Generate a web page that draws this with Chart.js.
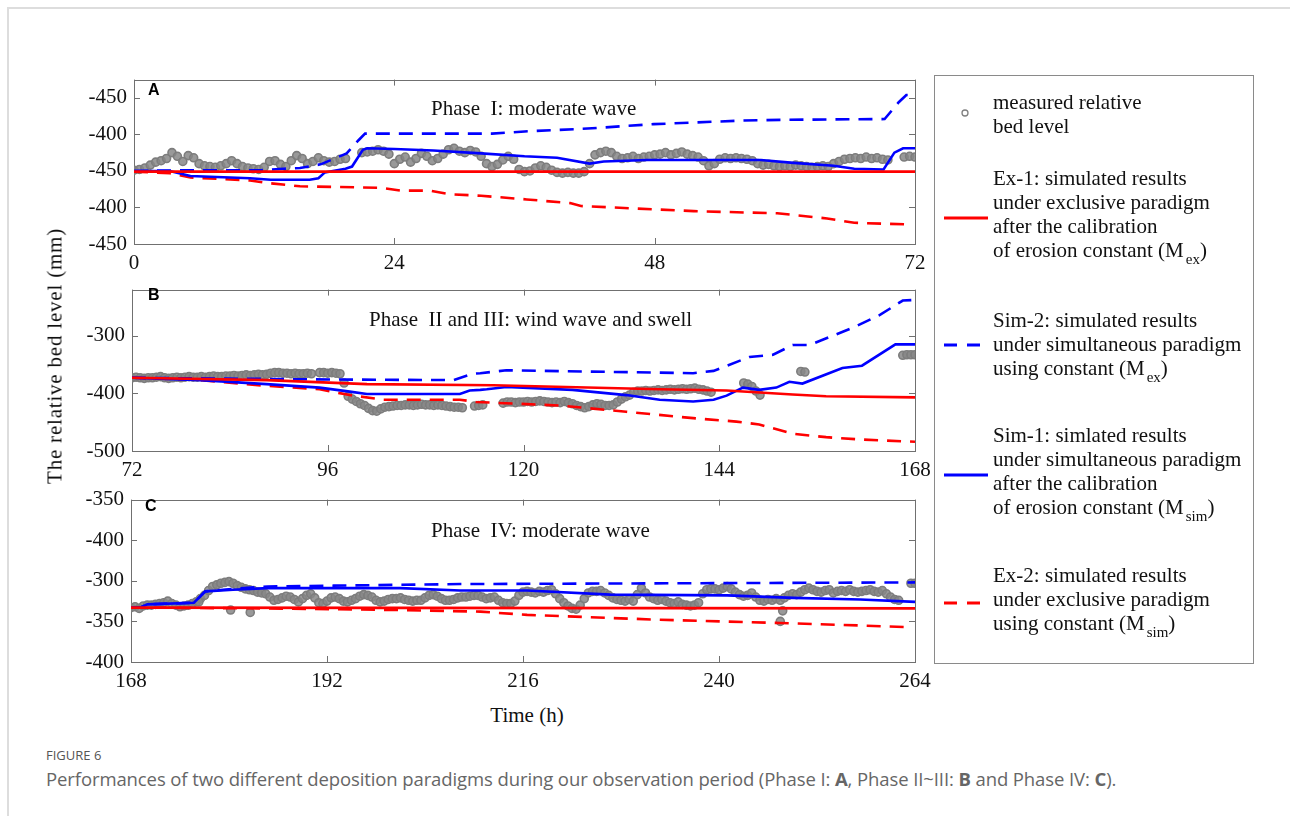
<!DOCTYPE html>
<html>
<head>
<meta charset="utf-8">
<script src="https://cdn.jsdelivr.net/npm/chart.js@4.4.0/dist/chart.umd.min.js"></script>
<style>
  body { margin: 0; background: #fff; width: 1290px; height: 816px; overflow: hidden; position: relative; }
  .abs { position: absolute; }
  canvas { position: absolute; left: 0; }
  .serif { font-family: "Liberation Serif", "Times New Roman", serif; color: #111; white-space: pre; }
  .letter { font-family: "Liberation Sans", Arial, sans-serif; font-weight: bold; font-size: 16px; color: #000; }
  .leg { font-size: 21px; line-height: 24px; left: 993px; }
  .leg sub { font-size: 15px; line-height: 0; vertical-align: -7px; margin-left: 2px; }
  .cap { font-family: "Open Sans", "Noto Sans", sans-serif; color: #666; white-space: nowrap; }
</style>
</head>
<body>
<div class="abs" style="left:7px;top:7px;width:1300px;height:820px;border-top:2px solid #ddd;border-left:2px solid #ddd;"></div>

<canvas id="panelA" width="940" height="220" style="top:60px"></canvas>
<canvas id="panelB" width="940" height="220" style="top:270px"></canvas>
<canvas id="panelC" width="940" height="220" style="top:480px"></canvas>

<div class="abs letter" style="left:148px;top:81px;">A</div>
<div class="abs letter" style="left:148px;top:286px;">B</div>
<div class="abs letter" style="left:145px;top:497px;">C</div>

<div class="abs serif" style="left:431px;top:96px;font-size:21px;">Phase  I: moderate wave</div>
<div class="abs serif" style="left:369px;top:307px;font-size:21px;">Phase  II and III: wind wave and swell</div>
<div class="abs serif" style="left:431px;top:518px;font-size:21px;">Phase  IV: moderate wave</div>

<div class="abs serif" style="left:55px;top:356px;font-size:21px;letter-spacing:0.8px;transform:translate(-50%,-50%) rotate(-90deg);">The relative bed level (mm)</div>
<div class="abs serif" style="left:527px;top:715px;font-size:21px;transform:translate(-50%,-50%);">Time (h)</div>

<!-- legend -->
<div class="abs" style="left:934px;top:75px;width:318px;height:587px;border:1px solid #8a8a8a;"></div>
<svg class="abs" style="left:934px;top:75px;" width="320" height="590">
  <circle cx="31" cy="38" r="3" fill="none" stroke="#808080" stroke-width="1.3"/>
  <line x1="10" y1="143" x2="54" y2="143" stroke="#ff0000" stroke-width="3"/>
  <line x1="10" y1="270" x2="54" y2="270" stroke="#0000ff" stroke-width="3" stroke-dasharray="13 10"/>
  <line x1="10" y1="400" x2="54" y2="400" stroke="#0000ff" stroke-width="3"/>
  <line x1="10" y1="528" x2="54" y2="528" stroke="#ff0000" stroke-width="3" stroke-dasharray="13 10"/>
</svg>
<div class="abs serif leg" style="top:90px;">measured relative
bed level</div>
<div class="abs serif leg" style="top:166px;">Ex-1: simulated results
under exclusive paradigm
after the calibration
of erosion constant (M<sub>ex</sub>)</div>
<div class="abs serif leg" style="top:308px;">Sim-2: simulated results
under simultaneous paradigm
using constant (M<sub>ex</sub>)</div>
<div class="abs serif leg" style="top:423px;">Sim-1: simlated results
under simultaneous paradigm
after the calibration
of erosion constant (M<sub>sim</sub>)</div>
<div class="abs serif leg" style="top:563px;">Ex-2: simulated results
under exclusive paradigm
using constant (M<sub>sim</sub>)</div>

<div class="abs cap" style="left:46px;top:746px;font-size:13px;color:#555;">FIGURE 6</div>
<div class="abs cap" style="left:46px;top:766px;font-size:18.5px;letter-spacing:-0.1px;">Performances of two different deposition paradigms during our observation period (Phase I: <b>A</b>, Phase II~III: <b>B</b> and Phase IV: <b>C</b>).</div>

<script>
// ---- panel A (0-72 h) ----
const xTicksA = [0, 24, 48, 72];
const yTicksA = [-550, -500, -450, -400, -350];
const yLabelsA = ['-450', '-400', '-450', '-400', '-450'];
// measured bed level, every 0.5 h from t = 0
const measA = [
  -449, -448, -446, -442, -438, -436, -433, -425, -430, -437, -429, -432,
  -440, -443, -444, -445, -443, -440, -436, -440, -444, -446, -447, -448,
  -445, -437, -436, -441, -444, -436, -429, -433, -440, -437, -432, -436,
  -438, -437, -434, -433, null, null, -425, -424, -423, -421, -423, -427,
  -440, -434, -431, -438, -433, -426, -430, -436, -433, -427, -421, -419,
  -423, -425, -422, -424, -430, -440, -444, -441, -435, -430, -434, -448,
  -451, -450, -446, -443, -445, -449, -452, -453, -452, -453, -453, -451,
  -440, -428, -425, -423, -425, -430, -433, -432, -430, -433, -431, -430,
  -428, -427, -425, -428, -426, -424, -427, -429, -431, -436, -443, -440,
  -434, -432, -433, -432, -433, -434, -436, -440, -442, -441, -443, -444,
  -443, -444, -442, -443, -444, -445, -444, -443, -444, -440, -437, -434,
  -433, -432, -433, -431, -433, -432, -434, -435, null, null, -431, -430, -431
];
const ex1A = [[0, -451], [72, -451]];
const ex2A = [[0, -451], [3.3, -453], [5.2, -459], [10.7, -463], [12.6, -467], [15.3, -471],
  [22.7, -473], [24.6, -477], [27.3, -477], [29.2, -482], [32, -484], [36.2, -489], [40.2, -494],
  [41.2, -498], [51.6, -505], [59.3, -508], [63.9, -515], [66.4, -521], [71, -523]];
const sim1A = [[0, -450], [3.3, -450], [5.2, -457], [10.7, -460], [12.6, -462], [16.2, -462],
  [17, -460], [17.6, -452], [19.5, -447], [20.1, -444], [21.1, -421], [21.5, -419], [24, -420],
  [27.6, -422], [32, -426], [36, -430], [39, -432], [42, -440], [43.3, -437], [47.3, -435],
  [57.8, -435], [60.8, -439], [64.5, -443], [66.4, -447], [69.1, -448], [70.1, -425], [70.9, -419], [72, -419]];
const sim2A = [[0, -450], [5, -449], [11.7, -449], [13.8, -447], [15.3, -446], [17.2, -441],
  [19.6, -426], [20.7, -408], [21.3, -399], [33, -399], [36, -396], [41.8, -392], [47.9, -386],
  [56.2, -381], [60, -380], [69.2, -379], [70.5, -356], [71.2, -346], [72, -346]];

// ---- panel B (72-168 h) ----
const xTicksB = [72, 96, 120, 144, 168];
const yTicksB = [-500, -400, -300];
const yLabelsB = ['-500', '-400', '-300'];
const measB = [
  -373, -372, -373, -374, -373, -373, -372, -371, -373, -374, -373, -372,
  -373, -372, -371, -372, -372, -371, -372, -371, -370, -371, -371, -370,
  -370, -369, -370, -369, -368, -369, -368, -367, -368, -367, -365, -364,
  -364, -365, -365, -366, -365, -366, -366, -365, -366, null, -364, -364,
  -365, -364, -365, -366, -382, -405, -410, -414, -418, -421, -426, -430,
  -431, -427, -424, -423, -422, -421, -421, -420, -420, -421, -420, -419,
  -420, -420, -421, -420, -421, -422, -423, -424, -424, -425, null, null,
  -422, -421, -420, null, null, null, null, -417, -415, -415, -416, -415,
  -415, -414, -415, -414, -413, -414, -415, -416, -415, -416, -414, -416,
  -418, -421, -423, -425, -423, -420, -418, -419, -421, -421, -420, -415,
  -410, -406, -403, -398, -396, -396, -395, -396, -395, -394, -395, -394,
  -393, -394, -393, -392, -393, -392, -391, -393, -394, -396, -398, null,
  null, null, null, null, null, null, -382, -384, -388, -396, -403, null,
  null, null, null, null, null, null, null, null, -362, -363, null, null,
  null, null, null, null, null, null, null, null, null, null, null, null,
  null, null, null, null, null, null, null, null, null, -334, -333, -333, -333
];
const ex1B = [[72, -373], [88.5, -377], [100.8, -384], [116.3, -386], [136.7, -393],
  [144.9, -395], [153, -402], [157.1, -405], [168, -407]];
const ex2B = [[72, -373], [80.4, -377], [88.5, -387], [95, -393], [98.7, -403], [102.8, -411],
  [112.2, -411], [114.2, -415], [124.4, -421], [132.6, -432], [140.8, -443], [146.1, -449],
  [148.9, -454], [153, -470], [157.1, -476], [161.2, -480], [168, -484]];
const sim1B = [[72, -373], [80.4, -377], [88.5, -384], [95, -390], [98.7, -397], [100.8, -401],
  [112.2, -401], [113.4, -395], [114.7, -394], [115.5, -393], [117.9, -389], [126, -394],
  [132.6, -403], [136.7, -411], [140.8, -414], [143.3, -411], [144.9, -404], [146.9, -390],
  [148.9, -394], [151, -390], [152.6, -380], [154.2, -383], [159.1, -356], [161.5, -352],
  [165.6, -315], [168, -315]];
const sim2B = [[72, -373], [96.7, -376], [111.4, -377], [113.8, -366], [114.7, -365],
  [117.9, -360], [140.8, -365], [143.3, -361], [147.7, -337], [150.6, -333], [153, -316],
  [155.1, -316], [160.4, -286], [163.7, -264], [166.5, -239], [168, -238]];

// ---- panel C (168-264 h) ----
const xTicksC = [168, 192, 216, 240, 264];
const yTicksC = [-400, -350, -300, -250, -200];
const yLabelsC = ['-400', '-350', '-300', '-400', '-350'];
const measC = [
  -333, -332, -334, -331, -330, -330, -329, -328, -327, -325, -328, -330,
  -332, -331, -330, -328, -326, -322, -318, -312, -307, -305, -303, -302,
  -301, -303, -306, -308, -310, -311, -312, -314, -315, -316, -320, -324,
  -323, -321, -319, -320, -323, -326, -322, -318, -316, -321, -327, -328,
  -325, -321, -320, -322, -325, -326, -324, -322, -319, -317, -318, -320,
  -324, -326, -325, -323, -322, -322, -321, -323, -324, -325, -324, -324,
  -321, -318, -317, -319, -322, -324, -324, -323, -321, -320, -320, -319,
  -318, -318, -320, -322, -321, -320, -324, -327, -328, -328, -325, -318,
  -314, -313, -314, -315, -313, -314, -312, -311, -316, -322, -327, -331,
  -334, -335, -330, -322, -315, -313, -313, -312, -315, -318, -321, -323,
  -324, -325, -323, -325, -317, -309, -315, -320, -322, -324, -323, -325,
  -327, -328, -326, -329, -330, -331, -330, -327, -316, -311, -310, -310,
  -311, -309, -307, -310, -314, -317, -319, -318, -315, -320, -324, -325,
  -323, -324, -322, -324, -321, -318, -316, -317, -314, -311, -309, -311,
  -313, -314, -312, -311, -315, -313, -312, -313, -311, -313, -314, -313,
  -312, -311, -313, -314, -312, -316, -320, -323, -324, null, null, -303, -303
];
const outliersC = [[176.3, -326], [180.2, -336], [182.6, -339], [247.5, -350], [247.8, -337]];
const ex1C = [[168, -333], [264, -334]];
const ex2C = [[168, -333], [184.7, -334], [201, -336], [210.8, -338], [216.5, -342],
  [232.8, -348], [247.5, -352], [257.3, -355], [262.7, -357]];
const sim1C = [[168, -333], [169.1, -333], [170, -329], [175.7, -327], [177.1, -313],
  [180.5, -311], [184.7, -309], [201, -309], [208.3, -312], [216.5, -312], [226.7, -317],
  [241, -318], [249.1, -321], [257.3, -323], [264, -326]];
const sim2C = [[168, -333], [169.1, -333], [170, -329], [175.7, -327], [177.1, -313],
  [180.5, -310], [184.7, -307], [192.8, -306], [208.3, -304], [264, -302]];

const RED = '#ff0000';
const BLUE = '#0000ff';
const tickFont = { family: 'Liberation Serif', size: 21 };

// frame round the plot area with inward ticks on all four sides
const frameTicks = {
  id: 'frameTicks',
  beforeDatasetsDraw(chart) {
    const { ctx, chartArea: a, scales: { x, y } } = chart;
    ctx.save();
    ctx.strokeStyle = '#707070';
    ctx.lineWidth = 1;
    ctx.strokeRect(Math.round(a.left) + 0.5, Math.round(a.top) + 0.5,
      Math.round(a.width), Math.round(a.height));
    ctx.beginPath();
    x.ticks.forEach(t => {
      const px = Math.round(x.getPixelForValue(t.value)) + 0.5;
      ctx.moveTo(px, a.bottom); ctx.lineTo(px, a.bottom - 6);
      ctx.moveTo(px, a.top); ctx.lineTo(px, a.top + 6);
    });
    y.ticks.forEach(t => {
      const py = Math.round(y.getPixelForValue(t.value)) + 0.5;
      ctx.moveTo(a.left, py); ctx.lineTo(a.left + 6, py);
      ctx.moveTo(a.right, py); ctx.lineTo(a.right - 6, py);
    });
    ctx.stroke();
    ctx.restore();
  }
};

function pts(arr) {
  return arr.map(p => ({ x: p[0], y: p[1] }));
}

function lineSet(arr, color, dashed) {
  return {
    type: 'line', data: pts(arr), showLine: true, borderColor: color, borderWidth: 2.6,
    borderDash: dashed ? [14, 9] : [], pointRadius: 0, fill: false, tension: 0, order: 1
  };
}

function makePanel(id, p) {
  const meas = p.meas.map((v, i) => ({ x: p.t0 + i * 0.5, y: v }))
    .filter(d => d.y !== null)
    .concat(pts(p.extra || []));
  new Chart(document.getElementById(id), {
    type: 'scatter',
    data: {
      datasets: [
        lineSet(p.ex1, RED, false),
        lineSet(p.sim1, BLUE, false),
        lineSet(p.sim2, BLUE, true),
        lineSet(p.ex2, RED, true),
        {
          label: 'measured', data: meas, pointRadius: 4, pointBorderWidth: 1.6,
          pointBorderColor: '#7d7d7d', pointBackgroundColor: 'rgba(135,135,135,0.85)', order: 5
        }
      ]
    },
    options: {
      responsive: false,
      animation: false,
      devicePixelRatio: 1,
      layout: { padding: { top: p.padTop, right: 25, bottom: 0, left: 0 } },
      plugins: { legend: { display: false }, tooltip: { enabled: false } },
      scales: {
        x: {
          type: 'linear', min: p.xTicks[0], max: p.xTicks[p.xTicks.length - 1],
          afterBuildTicks: ax => { ax.ticks = p.xTicks.map(v => ({ value: v })); },
          afterFit: ax => { ax.height = p.xH; },
          grid: { display: false, drawTicks: false },
          border: { display: false },
          ticks: { font: tickFont, color: '#111', padding: 7, autoSkip: false, maxRotation: 0 }
        },
        y: {
          type: 'linear', min: p.yMin, max: p.yMax,
          afterBuildTicks: ax => { ax.ticks = p.yTicks.map(v => ({ value: v })); },
          afterFit: ax => { ax.width = p.yW; },
          grid: { display: false, drawTicks: false },
          border: { display: false },
          ticks: {
            font: tickFont, color: '#111', padding: 7, autoSkip: false,
            callback: v => p.yLabels[p.yTicks.indexOf(v)]
          }
        }
      }
    },
    plugins: [frameTicks]
  });
}

makePanel('panelA', {
  meas: measA, t0: 0, ex1: ex1A, ex2: ex2A, sim1: sim1A, sim2: sim2A,
  xTicks: xTicksA, yTicks: yTicksA, yLabels: yLabelsA, yMin: -550, yMax: -325,
  padTop: 17, xH: 36, yW: 134
});
makePanel('panelB', {
  meas: measB, t0: 72, ex1: ex1B, ex2: ex2B, sim1: sim1B, sim2: sim2B,
  xTicks: xTicksB, yTicks: yTicksB, yLabels: yLabelsB, yMin: -500, yMax: -220,
  padTop: 14, xH: 39, yW: 132
});
makePanel('panelC', {
  meas: measC, t0: 168, extra: outliersC, ex1: ex1C, ex2: ex2C, sim1: sim1C, sim2: sim2C,
  xTicks: xTicksC, yTicks: yTicksC, yLabels: yLabelsC, yMin: -400, yMax: -200,
  padTop: 15, xH: 38, yW: 131
});
</script>
</body>
</html>
